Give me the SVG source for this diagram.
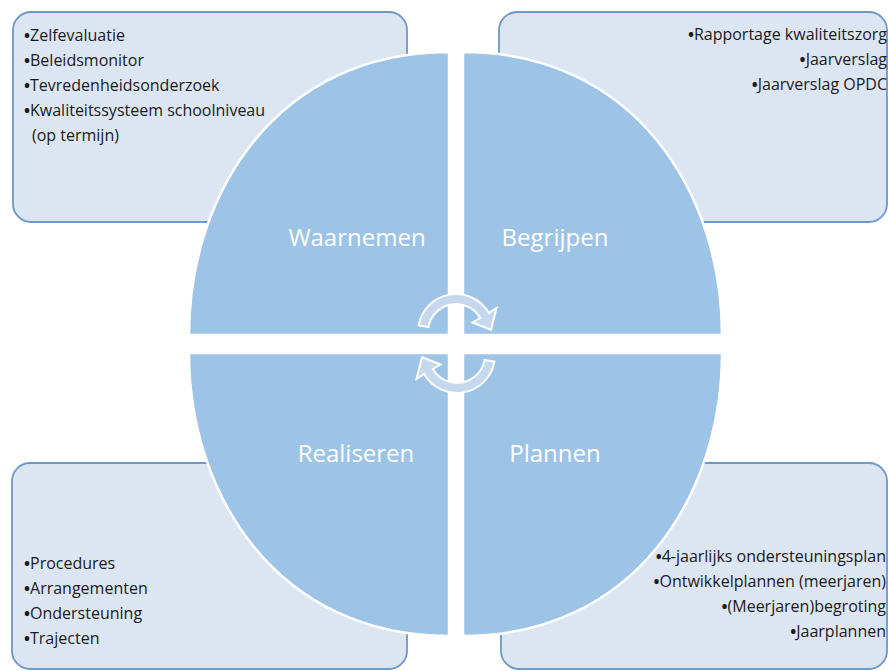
<svg xmlns="http://www.w3.org/2000/svg" width="888" height="671" viewBox="0 0 888 671">
<style>
.box{fill:#dce6f2;stroke:#6f97c9;stroke-width:1.8}
.quad{fill:#9dc3e6;stroke:#ffffff;stroke-width:2.5}
.lbl{font-family:"Open Sans","Liberation Sans",sans-serif;font-size:24px;fill:#ffffff;text-anchor:middle}
.t{font-family:"Open Sans","Liberation Sans",sans-serif;font-size:16px;fill:#1a1a1a}
.r{text-anchor:end}
.b{font-weight:700}
.arr{fill:#c6d8ee;stroke:#ffffff;stroke-width:2;stroke-linejoin:miter}
</style>
<rect width="888" height="671" fill="#ffffff"/>
<g id="box-waarnemen">
<rect class="box" x="13" y="12" width="394" height="210" rx="18"/>
<text class="t" x="24" y="41"><tspan class="b">•</tspan>Zelfevaluatie</text>
<text class="t" x="24" y="66"><tspan class="b">•</tspan>Beleidsmonitor</text>
<text class="t" x="24" y="91"><tspan class="b">•</tspan>Tevredenheidsonderzoek</text>
<text class="t" x="24" y="116"><tspan class="b">•</tspan>Kwaliteitssysteem schoolniveau</text>
<text class="t" x="32" y="141">(op termijn)</text>
</g>
<g id="box-begrijpen">
<rect class="box" x="499" y="12" width="388" height="210" rx="18"/>
<text class="t r" x="887" y="39.5"><tspan class="b">•</tspan>Rapportage kwaliteitszorg</text>
<text class="t r" x="887" y="64.5"><tspan class="b">•</tspan>Jaarverslag</text>
<text class="t r" x="887" y="89.5"><tspan class="b">•</tspan>Jaarverslag OPDC</text>
</g>
<g id="box-realiseren">
<rect class="box" x="12" y="463" width="395" height="206" rx="18"/>
<text class="t" x="24" y="569"><tspan class="b">•</tspan>Procedures</text>
<text class="t" x="24" y="594"><tspan class="b">•</tspan>Arrangementen</text>
<text class="t" x="24" y="619"><tspan class="b">•</tspan>Ondersteuning</text>
<text class="t" x="24" y="644"><tspan class="b">•</tspan>Trajecten</text>
</g>
<g id="box-plannen">
<rect class="box" x="501" y="463" width="386" height="206" rx="18"/>
<text class="t r" x="886" y="562"><tspan class="b">•</tspan>4-jaarlijks ondersteuningsplan</text>
<text class="t r" x="886" y="587"><tspan class="b">•</tspan>Ontwikkelplannen (meerjaren)</text>
<text class="t r" x="886" y="612"><tspan class="b">•</tspan>(Meerjaren)begroting</text>
<text class="t r" x="886" y="637"><tspan class="b">•</tspan>Jaarplannen</text>
</g>
<g id="q-waarnemen">
<path class="quad" d="M449,335 L189,335 C189,193.5 277,52 449,52 Z"/>
<text class="lbl" x="357" y="246">Waarnemen</text>
</g>
<g id="q-begrijpen">
<path class="quad" d="M463,335 L722,335 C722,193.5 635,52 463,52 Z"/>
<text class="lbl" x="555" y="246">Begrijpen</text>
</g>
<g id="q-realiseren">
<path class="quad" d="M449,353 L189,353 C189,494.5 277,636 449,636 Z"/>
<text class="lbl" x="356" y="462">Realiseren</text>
</g>
<g id="q-plannen">
<path class="quad" d="M463,353 L722,353 C722,494.5 635,636 463,636 Z"/>
<text class="lbl" x="555" y="462">Plannen</text>
</g>
<g id="connectors">
<path class="arr" d="M418.6,325.4 A38,38 0 0 1 488.9,313 L496.5,308 L491,330 L472.5,322.5 L480.2,318 A28,28 0 0 0 428.4,327.1 Z"/>
<path class="arr" transform="rotate(180 456.5 343.5)" d="M418.6,325.4 A38,38 0 0 1 488.9,313 L496.5,308 L491,330 L472.5,322.5 L480.2,318 A28,28 0 0 0 428.4,327.1 Z"/>
</g>
</svg>
